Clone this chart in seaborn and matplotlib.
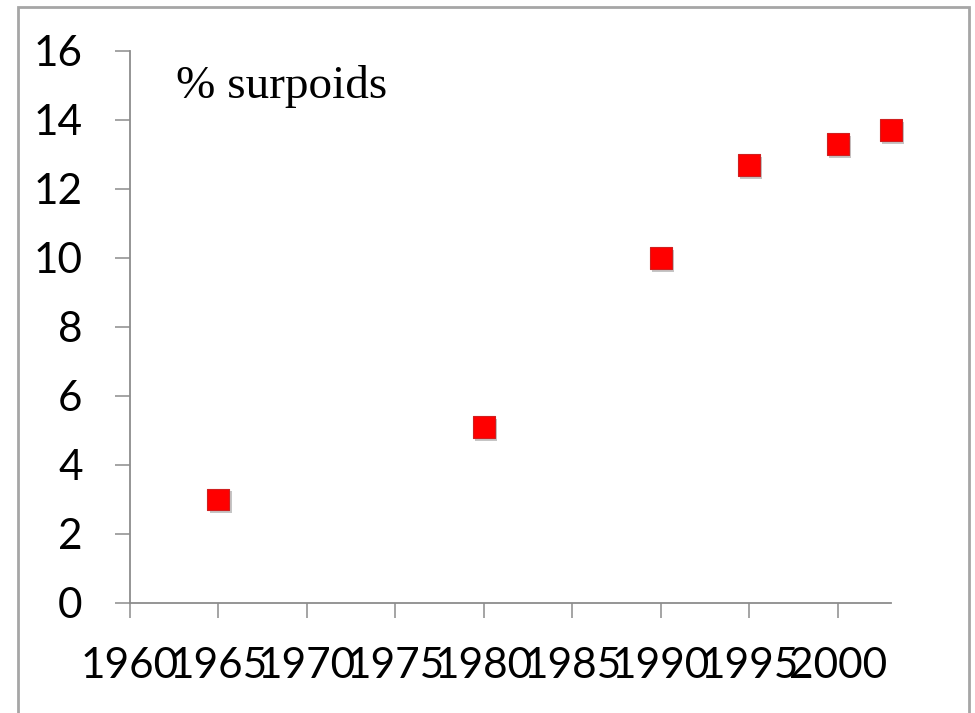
import matplotlib
matplotlib.use("Agg")
import matplotlib.pyplot as plt
import matplotlib.patheffects as pe
from matplotlib.patches import Rectangle
import seaborn as sns
import pandas as pd

# Share of overweight people by survey year
years = [1965, 1980, 1990, 1995, 2000, 2003]
pct_overweight = [3.0, 5.1, 10.0, 12.7, 13.3, 13.7]

x_ticks = [1960, 1965, 1970, 1975, 1980, 1985, 1990, 1995, 2000]
y_ticks = [0, 2, 4, 6, 8, 10, 12, 14, 16]

df = pd.DataFrame({"annee": years, "pct": pct_overweight})

sns.set_style("white")
plt.rcParams["font.family"] = ["Lato", "DejaVu Sans"]

fig = plt.figure(figsize=(9.75, 7.13), dpi=100)
ax = fig.add_axes([0.1333, 0.1543, 0.7805, 0.7742])

sns.scatterplot(
    data=df, x="annee", y="pct", ax=ax,
    marker="s", s=250, color="#ff0000", edgecolor="#d02020", linewidth=0.8,
    legend=False, zorder=3, clip_on=False,
)
ax.collections[0].set_path_effects([
    pe.SimplePatchShadow(offset=(1.5, -2.0), shadow_rgbFace="#808080", alpha=0.45),
    pe.Normal(),
])

ax.set_xlim(1960, 2003)
ax.set_ylim(0, 16)
ax.set_xticks(x_ticks)
ax.set_yticks(y_ticks)
ax.set_xticklabels([str(v) for v in x_ticks])
ax.set_yticklabels([str(v) for v in y_ticks])
ax.set_xlabel("")
ax.set_ylabel("")

axis_grey = "#8c8c8c"
for side in ("top", "right"):
    ax.spines[side].set_visible(False)
for side in ("left", "bottom"):
    ax.spines[side].set_color(axis_grey)
    ax.spines[side].set_linewidth(1.3)

ax.tick_params(axis="both", which="major", direction="out", length=11,
               width=1.1, color=axis_grey, labelsize=30.5, labelcolor="black",
               bottom=True, left=True, top=False, right=False)
ax.tick_params(axis="y", pad=23)
ax.tick_params(axis="x", pad=21)

ax.text(1962.6, 15.6, "% surpoids", family=["Liberation Serif", "DejaVu Serif"],
        fontsize=34, color="black", ha="left", va="top")

# Frame around the chart area
fig.patches.append(Rectangle((18 / 975, -0.02), (969 - 18) / 975, 0.02 + (713 - 7) / 713,
                             transform=fig.transFigure, fill=False,
                             edgecolor="#a6a6a6", linewidth=2.0))

fig.savefig("out.png", dpi=100)
